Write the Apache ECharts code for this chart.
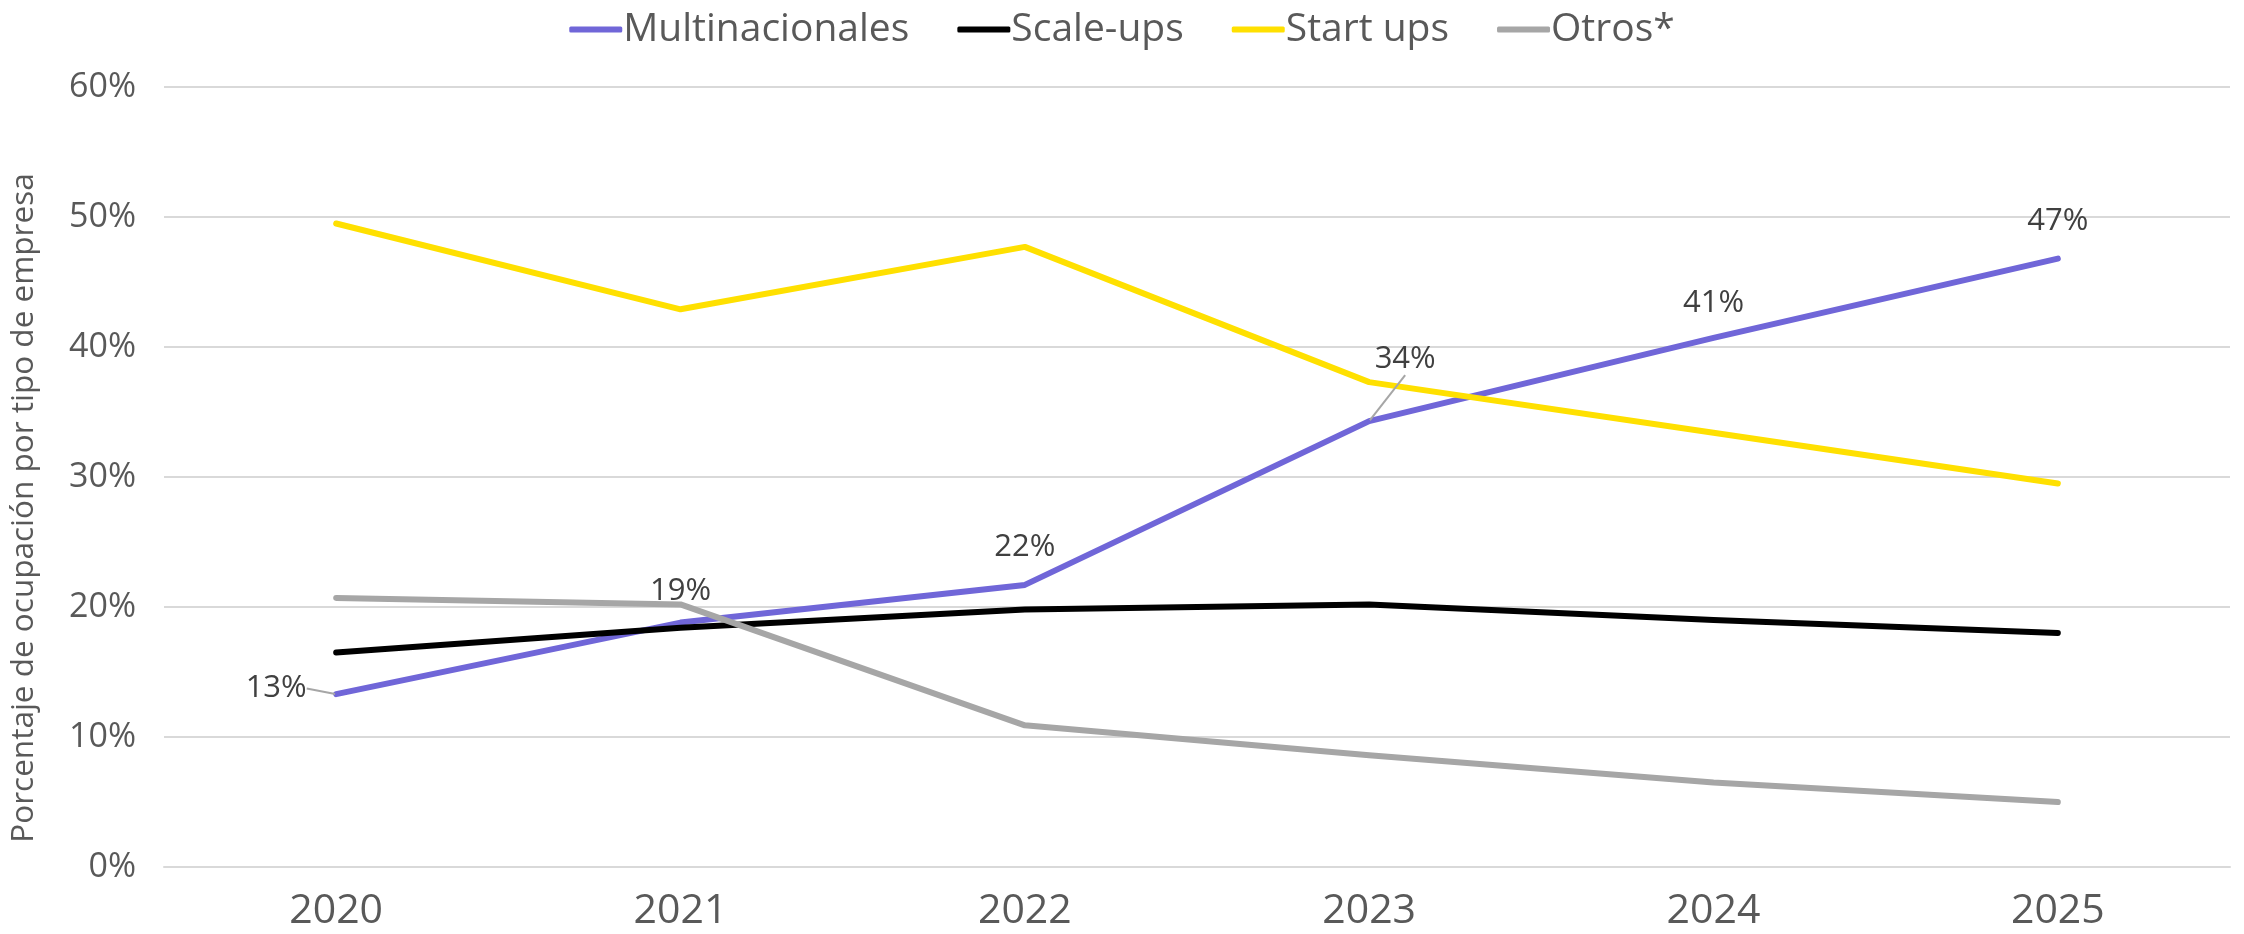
<!DOCTYPE html>
<html>
<head>
<meta charset="utf-8">
<script src="https://cdn.jsdelivr.net/npm/echarts@6/dist/echarts.min.js"></script>
<style>
  html, body { margin: 0; padding: 0; background: #fff; }
  #chart { width: 2244px; height: 934px; }
</style>
</head>
<body>
<div id="chart"></div>
<script>
  // values (percent)
  const years = ['2020', '2021', '2022', '2023', '2024', '2025']
  const multinacionales = [13.3, 18.8, 21.7, 34.3, 40.7, 46.8]
  const scaleUps = [16.5, 18.4, 19.8, 20.2, 19.0, 18.0]
  const startUps = [49.5, 42.9, 47.7, 37.3, 33.4, 29.5]
  const otros = [20.7, 20.2, 10.9, 8.6, 6.5, 5.0]

  const font = '"Open Sans", sans-serif'
  const textColor = '#595959'
  const gridColor = '#D9D9D9'

  // label nudges for the Multinacionales labels (relative to 'top')
  const labelShift = [[-60, 16], [0, -10], [0, -16], [36, -40], [0, -13], [0, -16]]
  const withLeader = [0, 3]

  const chart = echarts.init(document.getElementById('chart'))

  const lineSeries = (name, values, color) => ({
    name: name,
    type: 'line',
    data: values,
    symbol: 'circle',
    symbolSize: 2,
    itemStyle: { color: color },
    lineStyle: { color: color, width: 6, cap: 'round', join: 'round' },
    emphasis: { disabled: true },
    animation: false
  })

  const multi = lineSeries('Multinacionales', multinacionales.map((v, i) => ({
    value: v,
    labelLine: { show: withLeader.indexOf(i) >= 0 }
  })), '#7066D8')
  multi.label = {
    show: true,
    position: 'top',
    fontFamily: font,
    fontSize: 31,
    color: '#404040',
    formatter: p => Math.round(p.value) + '%'
  }
  multi.labelLine = { lineStyle: { color: '#A6A6A6', width: 2 } }
  multi.labelLayout = p => ({ dx: labelShift[p.dataIndex][0], dy: labelShift[p.dataIndex][1] })

  chart.setOption({
    backgroundColor: '#fff',
    legend: {
      top: 5,
      left: 'center',
      icon: 'roundRect',
      itemWidth: 53,
      itemHeight: 6,
      itemGap: 48,
      textStyle: { fontFamily: font, fontSize: 39, color: textColor, padding: [0, 0, 0, -4] },
      data: ['Multinacionales', 'Scale-ups', 'Start ups', 'Otros*']
    },
    grid: { left: 162, right: 14, top: 87, bottom: 67, containLabel: false },
    xAxis: {
      type: 'category',
      data: years,
      boundaryGap: true,
      axisLine: { show: true, lineStyle: { color: gridColor, width: 2 } },
      axisTick: { show: false },
      axisLabel: { fontFamily: font, fontSize: 41, color: textColor, margin: 24 }
    },
    yAxis: {
      type: 'value',
      min: 0,
      max: 60,
      interval: 10,
      name: 'Porcentaje de ocupación por tipo de empresa',
      nameLocation: 'middle',
      nameGap: 124,
      nameTextStyle: { fontFamily: font, fontSize: 31.5, color: textColor, padding: [0, 62, 0, 0] },
      axisLine: { show: false },
      axisTick: { show: false },
      splitLine: { lineStyle: { color: gridColor, width: 2 } },
      axisLabel: { fontFamily: font, fontSize: 34, color: textColor, margin: 28, formatter: '{value}%' }
    },
    series: [
      multi,
      lineSeries('Scale-ups', scaleUps, '#000000'),
      lineSeries('Start ups', startUps, '#FFE000'),
      lineSeries('Otros*', otros, '#A6A6A6')
    ]
  })
</script>
</body>
</html>
